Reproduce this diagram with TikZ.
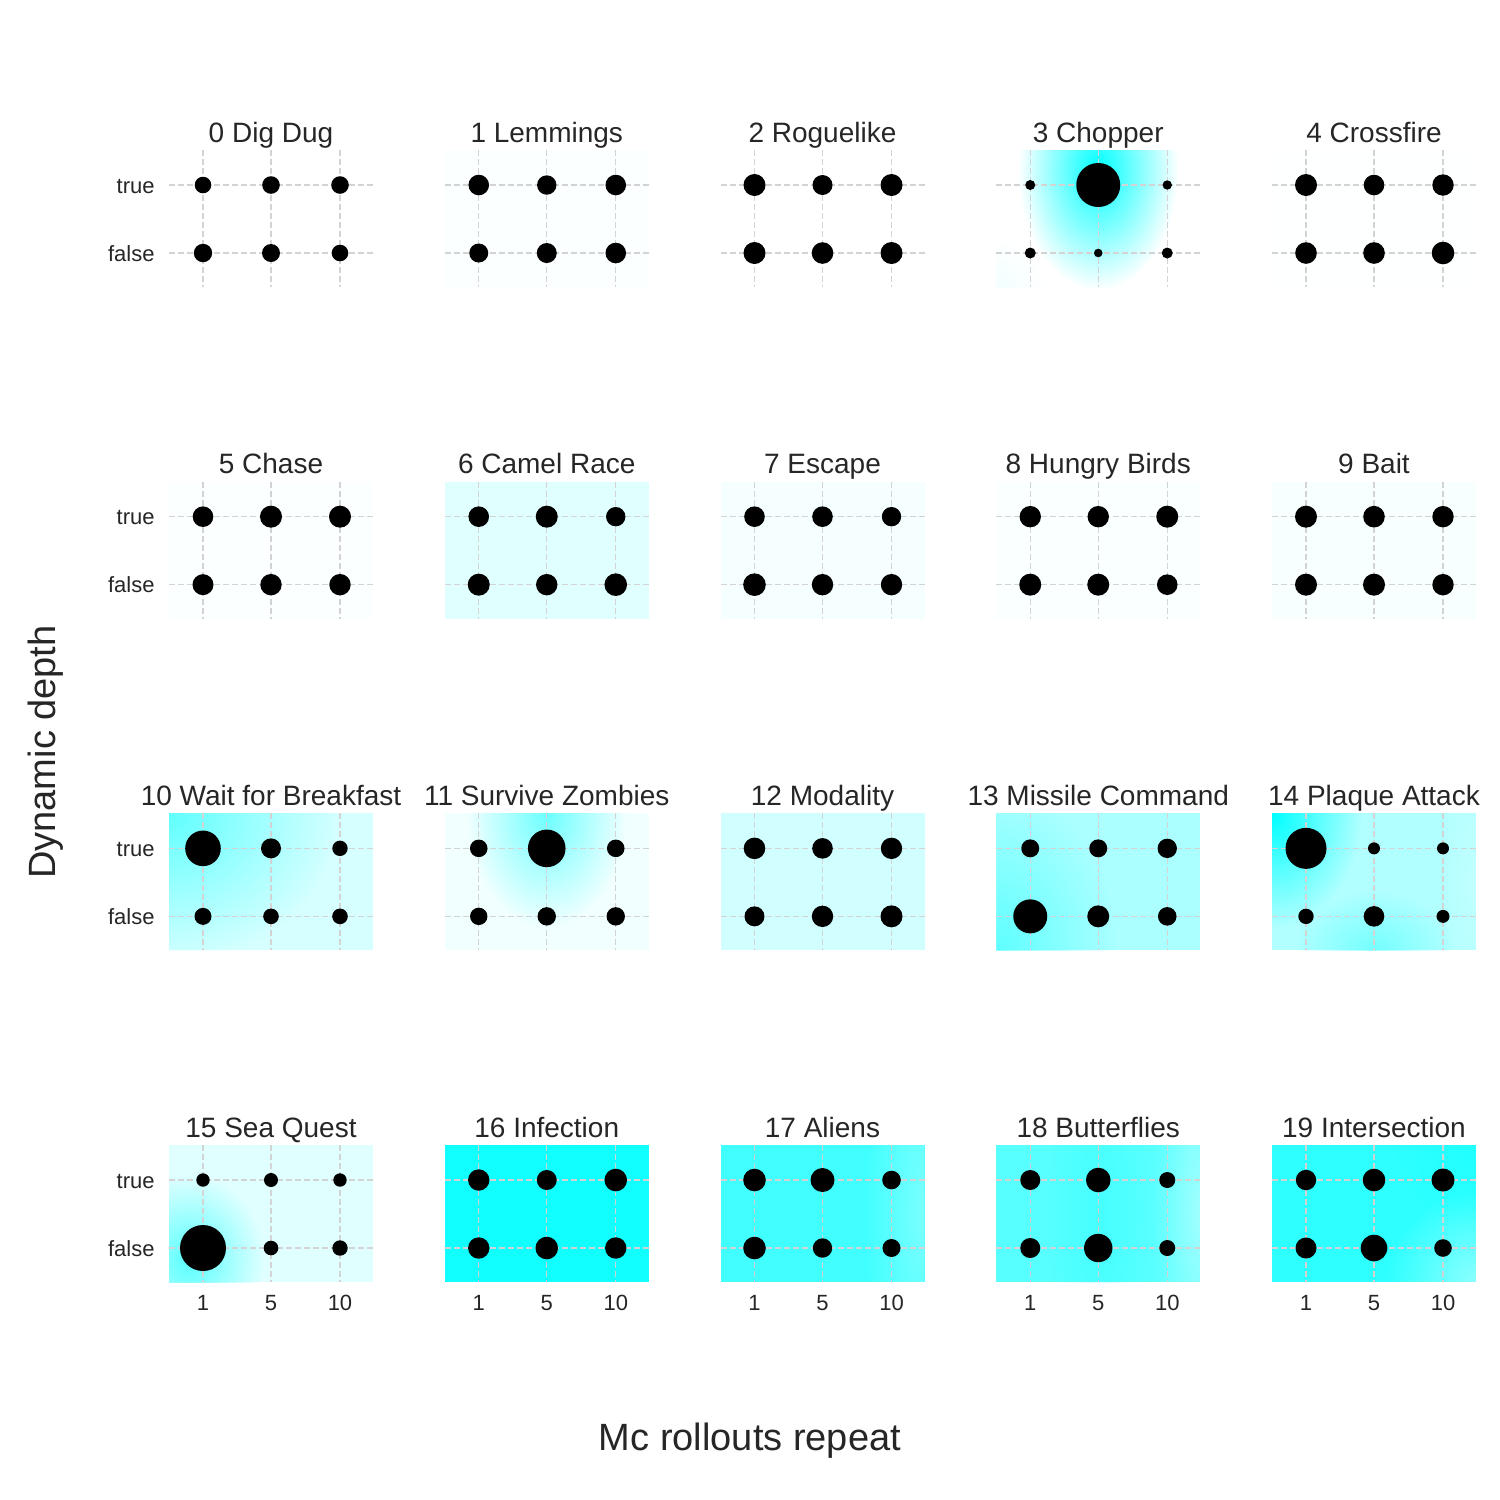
\documentclass[tikz,border=0pt]{standalone}
\usepackage{fontspec}
\setmainfont{Liberation Sans}
\usetikzlibrary{fadings}
\definecolor{txt}{HTML}{262626}
\definecolor{gridgray}{HTML}{D3D3D3}
\definecolor{aqua}{RGB}{0,255,255}
\tikzfading[name=blobfade, inner color=transparent!0, outer color=transparent!100]
\newcommand\panelxy[1]{%
  \pgfmathtruncatemacro\pcol{mod(#1,5)}%
  \pgfmathtruncatemacro\prow{#1/5}%
  \pgfmathsetmacro\px{169+275.75*\pcol}%
  \pgfmathsetmacro\py{150+331.67*\prow}}
\begin{document}
\begin{tikzpicture}[x=0.5pt, y=-0.5pt,
    dot/.style={circle, fill=black, inner sep=0pt},
    gridline/.style={gridgray, line width=0.6pt, dash pattern=on 3pt off 1.5pt},
    title/.style={font=\fontsize{14}{16}\selectfont, text=txt, anchor=base, inner sep=0pt},
    tick/.style={font=\fontsize{11}{13}\selectfont, text=txt, inner sep=0pt},
    axislabel/.style={font=\fontsize{19}{22}\selectfont, text=txt, inner sep=0pt, anchor=base}]
    \useasboundingbox[fill=white] (0,0) rectangle (1500,1500);
    % backgrounds
    \foreach \i/\bg in {0/0,1/1,2/0,3/0,4/0.5,5/1,6/12,7/4,8/2,9/3,
        10/16,11/5,12/18,13/33,14/30,15/12,16/93,17/74,18/66,19/82}
    {
        \panelxy{\i}
        \fill[aqua!\bg!white] (\px,\py) rectangle ++(204,137);
    }
    % blobs of the heat map
    \foreach \i/\cx/\cy/\rx/\ry/\op/\bc in {
        3/102/20/80/120/1/aqua, 3/0/137/50/50/0.05/aqua,
        10/0/0/170/150/0.55/aqua,
        11/102/0/80/115/0.55/aqua,
        13/0/137/120/160/0.45/aqua,
        14/0/0/90/115/1/aqua, 14/102/137/80/60/0.35/aqua, 14/204/68/40/150/0.2/white,
        15/20/115/75/85/0.6/aqua,
        17/204/68/60/200/0.3/white,
        18/204/68/50/200/0.45/white, 18/102/68/50/200/0.2/aqua,
        19/204/137/90/90/0.45/white, 19/204/0/80/80/0.3/aqua}
    {
        \panelxy{\i}
        \begin{scope}
            \clip (\px,\py) rectangle ++(204,137);
            \fill[\bc, fill opacity=\op, path fading=blobfade]
                (\px+\cx,\py+\cy) ellipse [x radius=\rx, y radius=\ry];
        \end{scope}
    }
    % grid, dots and titles
    \foreach \i/\ttl/\ta/\tb/\tc/\fa/\fb/\fc in {
        0/0 Dig Dug/8.3/8.8/8.8/9.2/9/8.3,
        1/1 Lemmings/10.3/9.7/10.3/9.5/10/10.3,
        2/2 Roguelike/11/10/11/11/10.8/11,
        3/3 Chopper/5/22/4.7/5.5/4.3/5.5,
        4/4 Crossfire/11/10.3/10.7/10.8/10.8/11.3,
        5/5 Chase/10.3/11/11/10.5/10.7/10.7,
        6/6 Camel Race/10.3/11/9.7/11/10.7/11.3,
        7/7 Escape/10.3/10.3/9.7/11.3/10.7/10.7,
        8/8 Hungry Birds/10.7/10.7/11/11/11/10.3,
        9/9 Bait/11/10.8/10.7/11/11/10.7,
        10/10 Wait for Breakfast/17.8/10/7.7/8.5/7.8/7.8,
        11/11 Survive Zombies/8.8/18.8/8.8/8.7/9.2/9.2,
        12/12 Modality/10.8/10.3/10.7/10/10.7/11,
        13/13 Missile Command/9/9/9.7/17/11/9.3,
        14/14 Plaque Attack/20.5/6/6/7.7/10.3/6.5,
        15/15 Sea Quest/6.7/7/6.7/23/7.3/7.7,
        16/16 Infection/10.7/10/11.3/10.7/11.3/10.7,
        17/17 Aliens/11.3/12/9.3/11.3/9.7/9,
        18/18 Butterflies/10/12.3/8/10/14.2/8,
        19/19 Intersection/10.2/11.3/11.5/10.5/13.3/8.8}
    {
        \panelxy{\i}
        \foreach \gx in {34,102,171}
            \draw[gridline] (\px+\gx,\py) -- ++(0,137);
        \foreach \gy in {35,103}
            \draw[gridline] (\px,\py+\gy) -- ++(204,0);
        \node[dot, minimum size=\ta pt] (d\i-t1) at (\px+34,\py+35) {};
        \node[dot, minimum size=\tb pt] (d\i-t5) at (\px+102,\py+35) {};
        \node[dot, minimum size=\tc pt] (d\i-t10) at (\px+171,\py+35) {};
        \node[dot, minimum size=\fa pt] (d\i-f1) at (\px+34,\py+103) {};
        \node[dot, minimum size=\fb pt] (d\i-f5) at (\px+102,\py+103) {};
        \node[dot, minimum size=\fc pt] (d\i-f10) at (\px+171,\py+103) {};
        \node[title] (t\i) at (\px+102,\py-8) {\ttl};
    }
    % tick labels
    \foreach \r in {0,1,2,3}
    {
        \node[tick, anchor=base east] (yt\r) at (155,150+331.67*\r+43) {true};
        \node[tick, anchor=base east] (yf\r) at (155,150+331.67*\r+111) {false};
    }
    \foreach \c in {0,...,4}
        \foreach \v/\dx in {1/34,5/102,10/171}
            \node[tick, anchor=base] (x\c-\v) at (169+275.75*\c+\dx,1310) {\v};
    % axis titles
    \node[axislabel] (xlabel) at (750,1450) {Mc rollouts repeat};
    \node[axislabel, rotate=90] (ylabel) at (55,752) {Dynamic depth};
\end{tikzpicture}
\end{document}
